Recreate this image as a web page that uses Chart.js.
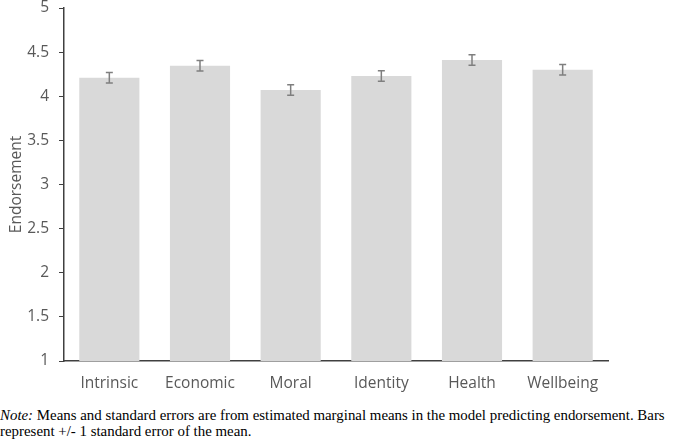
<!DOCTYPE html>
<html>
<head>
<meta charset="utf-8">
<script src="https://cdn.jsdelivr.net/npm/chart.js@4"></script>
<style>
  body { margin: 0; background: #fff; }
  #wrap { position: relative; width: 685px; height: 441px; }
  #note {
    position: absolute; left: 0; top: 407px; width: 700px;
    font-family: "Liberation Serif", "Times New Roman", serif;
    font-size: 14.9px; line-height: 16px; color: #000; white-space: nowrap;
  }
</style>
</head>
<body>
<div id="wrap">
  <canvas id="myChart" width="685" height="400"></canvas>
  <div id="note"><i>Note:</i> Means and standard errors are from estimated marginal means in the model predicting endorsement. Bars<br>represent +/- 1 standard error of the mean.</div>
</div>
<script>
const categories = ['Intrinsic', 'Economic', 'Moral', 'Identity', 'Health', 'Wellbeing'];
const means = [4.21, 4.345, 4.07, 4.23, 4.41, 4.30];
const stdErrors = [0.06, 0.06, 0.06, 0.06, 0.06, 0.06];
const yTicks = ['1', '1.5', '2', '2.5', '3', '3.5', '4', '4.5', '5'];

const textColor = '#595959';
const font = { family: '"Open Sans", sans-serif', size: 15.5 };

const errorBars = {
    id: 'errorBars',
    afterDatasetsDraw(chart) {
        const c = chart.ctx;
        const meta = chart.getDatasetMeta(0);
        const y = chart.scales.y;
        c.save();
        c.strokeStyle = '#7f7f7f';
        c.lineWidth = 1.5;
        meta.data.forEach((bar, i) => {
            const top = y.getPixelForValue(means[i] + stdErrors[i]);
            const bot = y.getPixelForValue(means[i] - stdErrors[i]);
            c.beginPath();
            c.moveTo(bar.x, top); c.lineTo(bar.x, bot);
            c.moveTo(bar.x - 3.5, top); c.lineTo(bar.x + 3.5, top);
            c.moveTo(bar.x - 3.5, bot); c.lineTo(bar.x + 3.5, bot);
            c.stroke();
        });
        c.restore();
    }
};

const ctx = document.getElementById('myChart').getContext('2d');
const myChart = new Chart(ctx, {
    type: 'bar',
    data: {
        labels: categories,
        datasets: [{
            data: means,
            backgroundColor: '#d9d9d9',
            barPercentage: 0.663,
            categoryPercentage: 1
        }]
    },
    options: {
        responsive: false,
        animation: false,
        layout: { padding: { top: 8, right: 77, left: 0, bottom: 0 } },
        plugins: { legend: { display: false }, tooltip: { enabled: false } },
        scales: {
            x: {
                grid: { display: false, drawTicks: false },
                border: { display: true, color: '#404040', width: 1.5 },
                ticks: { color: textColor, font: font, padding: 13, maxRotation: 0 },
                afterFit(s) { s.height = 39; s.paddingLeft = 0; s.paddingRight = 0; }
            },
            y: {
                min: 1,
                max: 5,
                grid: { drawOnChartArea: false, drawTicks: true, tickLength: 5, color: '#404040' },
                border: { display: true, color: '#404040', width: 1.5 },
                ticks: {
                    stepSize: 0.5,
                    color: textColor,
                    font: font,
                    padding: 10,
                    callback: (v, i) => yTicks[i]
                },
                title: { display: true, text: 'Endorsement', color: textColor, font: font, padding: { top: 7, bottom: 0 } },
                afterFit(s) { s.width = 64; s.paddingTop = 0; s.paddingBottom = 0; }
            }
        }
    },
    plugins: [errorBars]
});
</script>
</body>
</html>
